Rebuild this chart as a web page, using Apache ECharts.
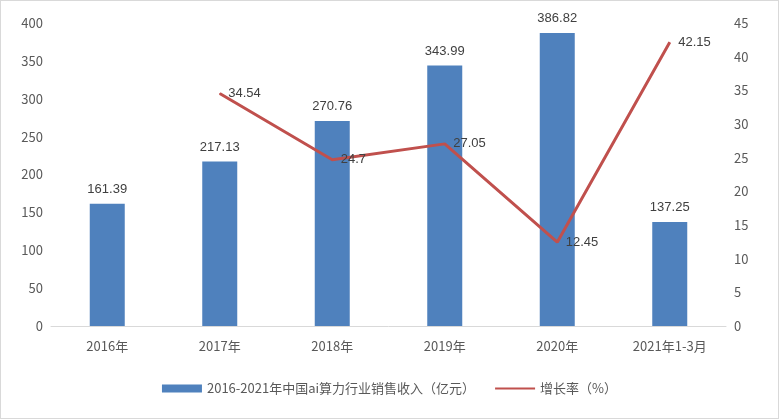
<!DOCTYPE html>
<html><head><meta charset="utf-8">
<script src="https://cdn.jsdelivr.net/npm/echarts@6/dist/echarts.min.js"></script>
<style>html,body{margin:0;padding:0;background:#fff}#c{width:777px;height:417px;border:1px solid #d9d9d9}</style>
</head><body><div id="c"></div>
<script>
const categories=['2016年','2017年','2018年','2019年','2020年','2021年1-3月'];
const revenue=[161.39,217.13,270.76,343.99,386.82,137.25];
const growth=[null,34.54,24.7,27.05,12.45,42.15];
const ch=echarts.init(document.getElementById('c'));
const txt={color:'#595959',fontSize:13,fontFamily:'Noto Sans CJK SC'};
ch.setOption({
 animation:false,
 grid:{left:50,right:52,top:22,bottom:92},
 legend:{bottom:18,itemGap:20,textStyle:txt,itemWidth:40,itemHeight:8,
  data:[{name:'2016-2021年中国ai算力行业销售收入（亿元）',icon:'rect'},{name:'增长率（%）',icon:'path://M0,3L40,3L40,5L0,5Z'}]},
 xAxis:{type:'category',data:categories,axisTick:{show:false},axisLine:{lineStyle:{color:'#d9d9d9'}},axisLabel:Object.assign({margin:14},txt)},
 yAxis:[
  {type:'value',min:0,max:400,interval:50,axisLabel:txt,splitLine:{show:false},axisLine:{show:false}},
  {type:'value',min:0,max:45,interval:5,axisLabel:txt,splitLine:{show:false},axisLine:{show:false}}
 ],
 series:[
  {name:'2016-2021年中国ai算力行业销售收入（亿元）',type:'bar',data:revenue,barWidth:35,itemStyle:{color:'#4f81bd'},
   label:{show:true,position:'top',distance:8,color:'#404040',fontSize:13}},
  {name:'增长率（%）',type:'line',yAxisIndex:1,data:growth,symbol:'circle',symbolSize:1,showSymbol:true,lineStyle:{color:'#c0504d',width:3},itemStyle:{color:'#c0504d'},
   label:{show:true,position:'right',distance:8,color:'#404040',fontSize:13}}
 ]
});
</script></body></html>
